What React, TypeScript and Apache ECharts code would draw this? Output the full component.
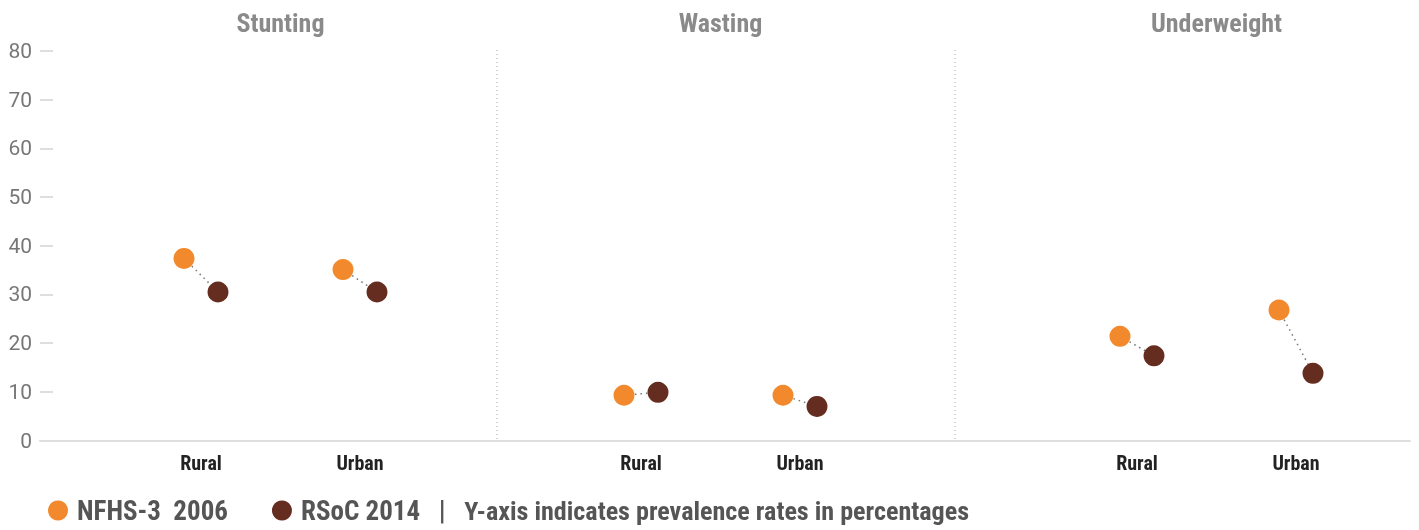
import React, { useEffect, useRef } from 'react';
import * as echarts from 'echarts';

const categories = ['Rural', 'Urban'];
const panelTitles = ['Stunting', 'Wasting', 'Underweight'];
const nfhs2006 = [[37.4, 35.1], [9.3, 9.3], [21.4, 26.8]];
const rsoc2014 = [[30.5, 30.5], [9.9, 7.0], [17.4, 13.8]];
const seriesNames = ['NFHS-3  2006', 'RSoC 2014'];
const noteText = 'Y-axis indicates prevalence rates in percentages';
const yMin = 0;
const yMax = 80;
const yStep = 10;

const COND = "'Roboto Condensed','Liberation Sans Narrow','DejaVu Sans Condensed',Roboto,sans-serif";
const ORANGE = '#F28A2D';
const BROWN = '#652C20';

export default function App() {
  const ref = useRef<HTMLDivElement>(null);
  useEffect(() => {
    const chart = echarts.init(ref.current!, null, { renderer: 'svg' });
    const top = 51;
    const bottom = 89.5;
    const panelLeft = [121.5, 561.5, 1057.5];
    const panelWidth = 318;
    const offset = 17;

    const grid: any[] = [
      { left: 40, right: 9, top, bottom },
      ...panelLeft.map((l) => ({ left: l, width: panelWidth, top, bottom })),
    ];
    const xAxis: any[] = [
      {
        gridIndex: 0, type: 'value', min: 0, max: 1,
        axisLine: { show: true, lineStyle: { color: '#dedede', width: 2 } },
        axisTick: { show: false }, axisLabel: { show: false }, splitLine: { show: false },
      },
      ...panelLeft.map((_, i) => ({
        gridIndex: i + 1, type: 'category', data: categories,
        axisLine: { show: false }, axisTick: { show: false }, splitLine: { show: false },
        axisLabel: { color: '#222', fontFamily: COND, fontWeight: 'bold', fontSize: 20, margin: 12 },
      })),
    ];
    const yAxis: any[] = [
      {
        gridIndex: 0, type: 'value', min: yMin, max: yMax, interval: yStep,
        axisLine: { show: false },
        axisTick: { show: true, inside: true, length: 13, lineStyle: { color: '#dedede', width: 2 } },
        axisLabel: { color: '#777', fontSize: 21, fontFamily: 'Roboto', margin: 8 },
        splitLine: { show: false },
      },
      ...panelLeft.map((_, i) => ({
        gridIndex: i + 1, type: 'value', min: yMin, max: yMax, interval: yStep, show: false,
        splitLine: { show: false },
      })),
    ];

    const series: any[] = [];
    panelLeft.forEach((_, i) => {
      series.push({
        type: 'custom', name: 'connector', xAxisIndex: i + 1, yAxisIndex: i + 1, silent: true, z: 1,
        data: categories.map((_, j) => [j, nfhs2006[i][j], rsoc2014[i][j]]),
        encode: { x: 0, y: [1, 2] },
        renderItem: (_p: any, api: any) => {
          const a = api.coord([api.value(0), api.value(1)]);
          const b = api.coord([api.value(0), api.value(2)]);
          return {
            type: 'line',
            shape: { x1: a[0] - offset, y1: a[1], x2: b[0] + offset, y2: b[1] },
            style: { stroke: '#777', lineWidth: 1.5, lineDash: [1.5, 4] },
          };
        },
      });
      series.push({
        type: 'scatter', name: seriesNames[0], xAxisIndex: i + 1, yAxisIndex: i + 1, z: 3,
        symbol: 'circle', symbolSize: 21, symbolOffset: [-offset, 0],
        itemStyle: { color: ORANGE, opacity: 1 },
        data: categories.map((_, j) => [j, nfhs2006[i][j]]),
      });
      series.push({
        type: 'scatter', name: seriesNames[1], xAxisIndex: i + 1, yAxisIndex: i + 1, z: 3,
        symbol: 'circle', symbolSize: 21, symbolOffset: [offset, 0],
        itemStyle: { color: BROWN, opacity: 1 },
        data: categories.map((_, j) => [j, rsoc2014[i][j]]),
      });
    });

    const graphic: any[] = [
      ...panelTitles.map((t, i) => ({
        type: 'text', x: panelLeft[i] + panelWidth / 2, y: 23,
        style: { text: t, textAlign: 'center', textVerticalAlign: 'middle', font: `bold 26px ${COND}`, fill: '#8a8a8a' },
      })),
      ...[497, 955].map((x) => ({
        type: 'line', shape: { x1: x, y1: 50, x2: x, y2: 440 },
        style: { stroke: '#aaa', lineWidth: 1, lineDash: [1, 3] },
      })),
    ];

    const legendFont = { fontFamily: COND, fontWeight: 'bold', color: '#555', lineHeight: 24 };
    chart.setOption({
      animation: false,
      grid, xAxis, yAxis, series, graphic,
      legend: {
        data: seriesNames,
        left: 48, top: 497, padding: 0, icon: 'circle', itemWidth: 20, itemHeight: 20, itemGap: 44,
        textStyle: {
          ...legendFont, fontSize: 27,
          rich: {
            n: { ...legendFont, fontSize: 27, padding: [0, 0, 0, 4] },
            s: { ...legendFont, fontSize: 27 },
            m: { ...legendFont, fontSize: 26.1 },
          },
        },
        formatter: (name: string) =>
          name === seriesNames[1] ? `{n|${name}}{s|   |   }{m|${noteText}}` : `{n|${name}}`,
      },
    });
    return () => chart.dispose();
  }, []);
  return <div ref={ref} style={{ position: 'fixed', left: 0, top: 0, width: 1419, height: 530 }} />;
}
